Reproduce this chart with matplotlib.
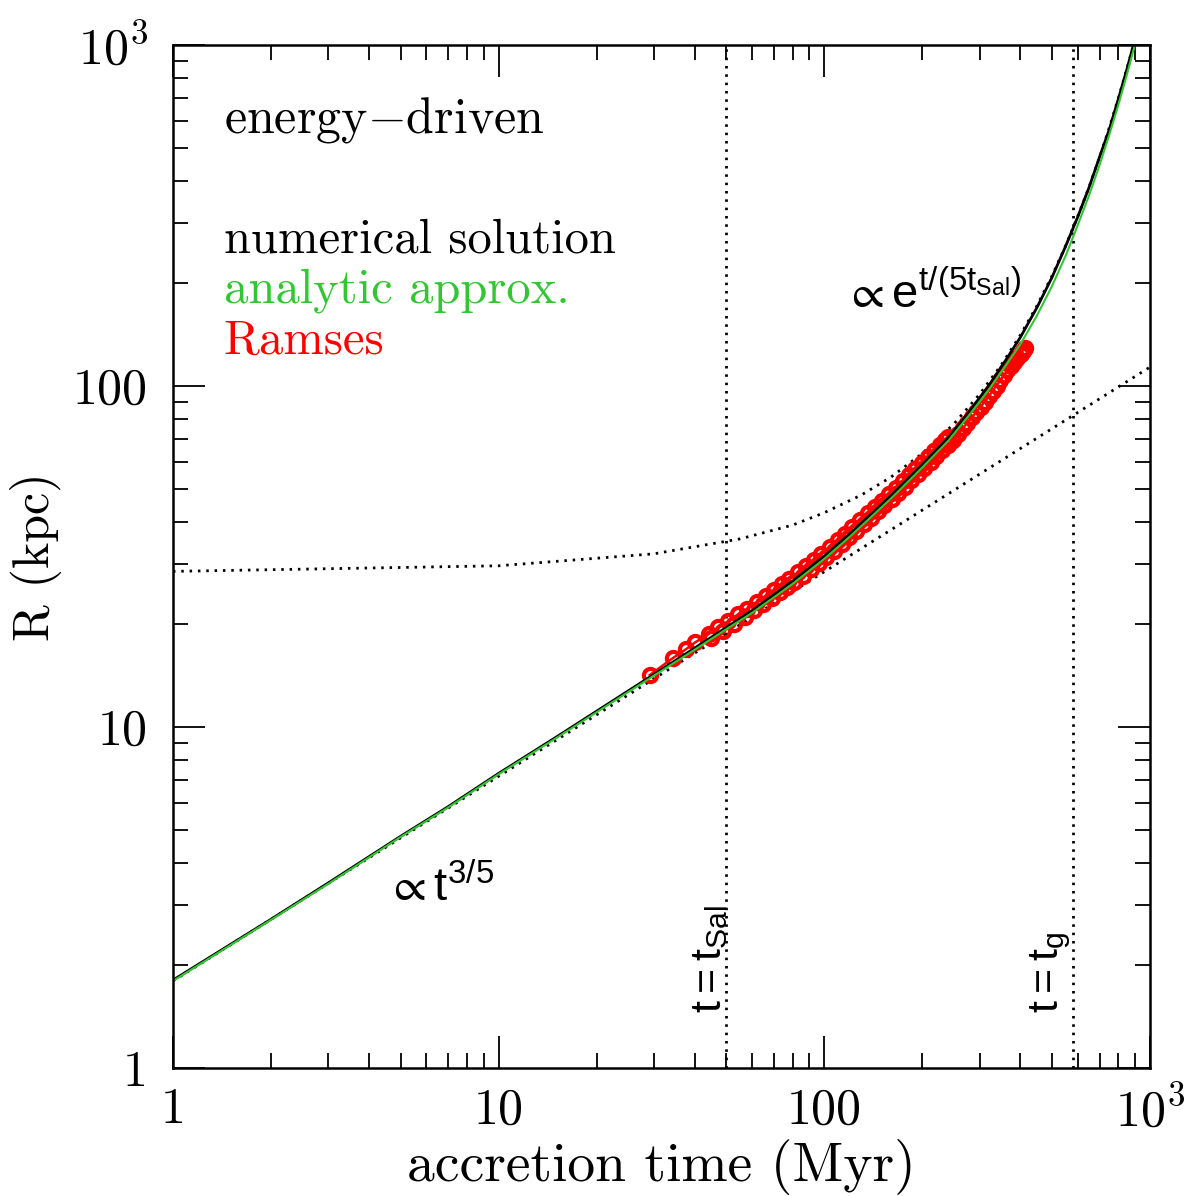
import numpy as np
import matplotlib
matplotlib.use("Agg")
import matplotlib.pyplot as plt
from matplotlib.ticker import FixedLocator, FixedFormatter, NullFormatter, LogLocator

plt.rcParams['font.family'] = ['cmr10', 'DejaVu Serif']
plt.rcParams['mathtext.fontset'] = 'cm'
plt.rcParams['axes.unicode_minus'] = False

# numerical solution (black)
t_num = [1, 2, 3, 5, 7, 10, 15, 20, 30, 40, 50, 60, 70, 80, 100, 120, 140, 160,
         180, 200, 240, 280, 320, 360, 400, 450, 500, 550, 600, 650, 700, 750,
         800, 850, 900]
R_num = [1.81, 2.73, 3.49, 4.78, 5.84, 7.31, 9.33, 11.13, 14.27, 17.04, 19.58,
         21.95, 24.4, 26.8, 31.7, 36.9, 42.3, 47.6, 53.2, 58.8, 70.4, 84.7, 100.3,
         118.7, 138.9, 170, 208, 256, 313, 382, 469, 565, 695, 850, 1040]

# analytic approximation (green)
t_ana = [1, 2, 3, 5, 7, 10, 15, 20, 30, 40, 50, 60, 70, 80, 100, 120, 140, 160,
         180, 200, 240, 280, 320, 360, 400, 450, 500, 550, 600, 650, 700, 750,
         800, 850, 900]
R_ana = [1.80, 2.72, 3.47, 4.76, 5.81, 7.27, 9.27, 11.05, 14.15, 16.85, 19.35,
         21.6, 24.0, 26.3, 31.1, 36.2, 41.5, 46.7, 52.2, 57.7, 69.0, 82.6, 97.5,
         114.5, 132.5, 161, 196, 240, 296, 362, 444, 545, 668, 820, 1005]

# Ramses runs (red)
t_ram1 = [29.1, 34.2, 37.6, 40.1, 44.4, 47.1, 50.6, 54.3, 58, 62, 66, 70, 74, 78,
          83, 88, 93, 98, 104, 110, 116, 122, 129, 136, 143, 150, 158, 166, 174,
          182, 190, 199, 208, 217, 226, 235, 240]
R_ram1 = [14.2, 15.9, 16.9, 17.7, 18.8, 19.6, 20.4, 21.4, 22.2, 23.2, 24.2, 25.2,
          26.2, 27.2, 28.4, 29.6, 30.9, 32.2, 33.7, 35.3, 36.9, 38.5, 40.4, 42.4,
          44.2, 46.1, 48.2, 50.3, 52.6, 54.8, 57.0, 59.5, 62.0, 64.5, 67.0, 69.6,
          70.8]
t_ram2 = [45, 49, 53, 57, 61, 65, 69, 73, 77, 81, 86, 91, 96, 101, 107, 113, 119,
          125, 132, 139, 146, 153, 161, 169, 177, 185, 194, 203, 212, 221, 230,
          239, 248, 257, 266, 275, 284, 293, 302, 311, 320, 329, 338, 347, 356,
          365, 374, 383, 392, 401, 407, 413]
R_ram2 = [18.2, 19.15, 20.1, 21.0, 22.0, 22.9, 23.9, 24.8, 25.8, 26.7, 27.8, 29.0,
          30.2, 31.5, 32.9, 34.5, 36.0, 37.5, 39.3, 41.1, 42.9, 44.7, 46.6, 48.6,
          50.7, 52.9, 55.2, 57.6, 60.0, 62.4, 64.8, 67.1, 69.4, 72.1, 75.1, 78.0,
          80.9, 83.9, 86.8, 90.0, 93.2, 96.8, 100.3, 103.8, 107.4, 111.1, 114.8,
          117.5, 121.0, 124.5, 127.0, 129.5]

# asymptotic guides (dotted)
t_pow = [1, 1000]
R_pow = [1.8, 113.6]
t_exp = [1, 10, 30, 55, 80, 100, 130, 160, 200, 250, 300, 350, 400, 450, 500,
         550, 600, 650, 700, 750, 800, 850, 900]
R_exp = [28.6, 29.7, 32.2, 35.6, 39.1, 42.5, 47.9, 54.0, 63.4, 77.4, 94.6, 115.5,
         141, 172, 210, 257, 314, 383, 468, 572, 698, 853, 1040]

t_sal = 50
t_g = 580

green = '#33c633'
red = '#ff0000'

fig = plt.figure(figsize=(11.96, 11.96), dpi=100)
ax = fig.add_axes([0.1446, 0.107, 0.8169, 0.8554])

dot = (0, (0.9, 2.1))
ax.plot(t_pow, R_pow, color='k', lw=2.0, ls=dot)
ax.plot(t_exp, R_exp, color='k', lw=2.0, ls=dot)
ax.axvline(t_sal, color='k', lw=2.0, ls=dot)
ax.axvline(t_g, color='k', lw=2.0, ls=dot)

ax.plot(t_ram1, R_ram1, color=red, lw=1.8, marker='o', ms=9.5, mfc='none',
        mec=red, mew=3.0)
ax.plot(t_ram2, R_ram2, color=red, lw=1.8, marker='o', ms=9.5, mfc='none',
        mec=red, mew=3.0)
ax.plot(t_num, R_num, color='k', lw=2.0)
ax.plot(t_ana, R_ana, color=green, lw=1.5)

ax.set_xscale('log')
ax.set_yscale('log')
ax.set_xlim(1, 1000)
ax.set_ylim(1, 1000)

for axis in (ax.xaxis, ax.yaxis):
    axis.set_major_locator(FixedLocator([1, 10, 100, 1000]))
    axis.set_major_formatter(FixedFormatter(['1', '10', '100', r'$10^3$']))
    axis.set_minor_locator(LogLocator(base=10, subs=np.arange(2, 10)))
    axis.set_minor_formatter(NullFormatter())

ax.tick_params(which='both', direction='in', top=True, right=True, width=1.3)
ax.tick_params(which='major', length=23, labelsize=36)
ax.tick_params(axis='x', which='major', pad=14)
ax.tick_params(axis='y', which='major', pad=18)
ax.tick_params(which='minor', length=11)
for s in ax.spines.values():
    s.set_linewidth(1.8)

ax.set_xlabel('accretion time (Myr)', fontsize=40, labelpad=2)
ax.set_ylabel('R (kpc)', fontsize=36, labelpad=8)

ax.text(0.052, 0.927, r'energy$-$driven', transform=ax.transAxes, fontsize=36,
        va='center', ha='left')
ax.text(0.052, 0.809, 'numerical solution', transform=ax.transAxes, fontsize=35,
        va='center', ha='left')
ax.text(0.052, 0.760, 'analytic approx.', transform=ax.transAxes, fontsize=35,
        va='center', ha='left', color=green)
ax.text(0.052, 0.710, 'Ramses', transform=ax.transAxes, fontsize=35,
        va='center', ha='left', color=red)

sans = ['Liberation Sans', 'DejaVu Sans']
ax.text(0.217, 0.176, r'$\mathregular{\propto t^{3/5}}$', transform=ax.transAxes,
        fontsize=34, va='center', ha='left', family=sans)
ax.text(0.686, 0.756, r'$\mathregular{\propto e^{t/(5t_{Sal})}}$',
        transform=ax.transAxes, fontsize=34, va='center', ha='left', family=sans)
ax.text(51.5, 1.45, r'$\mathregular{t=t_{Sal}}$', rotation=90, fontsize=31,
        va='bottom', ha='right', family=sans)
ax.text(t_g, 1.45, r'$\mathregular{t=t_g}$', rotation=90, fontsize=31,
        va='bottom', ha='right', family=sans)

fig.savefig('out.png', dpi=100)
